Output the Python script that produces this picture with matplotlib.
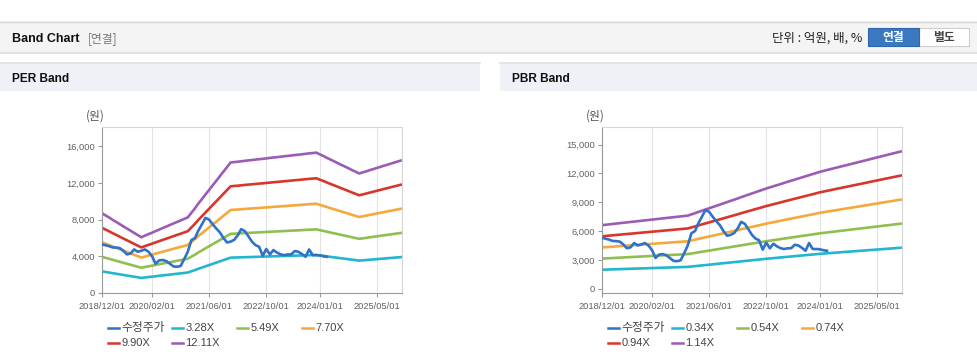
import matplotlib
matplotlib.use("Agg")
import matplotlib.pyplot as plt
from matplotlib.lines import Line2D
from matplotlib.patches import Rectangle
import pandas as pd

plt.rcParams['font.family'] = ['Liberation Sans', 'Noto Sans CJK KR', 'DejaVu Sans']

# ---------------- data ----------------
months = pd.date_range('2018-12-01', periods=85, freq='MS')

eps = [718, 698, 679, 659, 640, 620, 600, 581, 561, 541, 522, 502,
       516, 530, 543, 557, 571, 585, 598, 612, 626, 640, 653, 667, 681,
       722, 763, 805, 846, 887, 928, 969, 1010, 1052, 1093, 1134, 1175,
       1179, 1182, 1186, 1190, 1194, 1197, 1201, 1205, 1208, 1212, 1216,
       1220, 1223, 1227, 1231, 1234, 1238, 1242, 1245, 1249, 1253, 1257,
       1260, 1264, 1248, 1233, 1217, 1201, 1186, 1170, 1154, 1139, 1123,
       1107, 1092, 1076, 1086, 1096, 1106, 1116, 1126, 1136, 1146, 1156,
       1166, 1176, 1186, 1196]

bps = [5800, 5836, 5873, 5909, 5945, 5981, 6018, 6054, 6090, 6126, 6163,
       6199, 6235, 6271, 6308, 6344, 6380, 6416, 6453, 6489, 6525, 6561,
       6598, 6634, 6670, 6782, 6894, 7006, 7118, 7230, 7340, 7453, 7566,
       7679, 7792, 7905, 8018, 8131, 8244, 8357, 8470, 8583, 8696, 8809,
       8922, 9035, 9150, 9251, 9352, 9453, 9554, 9655, 9756, 9857, 9958,
       10059, 10160, 10261, 10362, 10463, 10564, 10670, 10752, 10834,
       10916, 10998, 11080, 11162, 11244, 11326, 11408, 11490, 11572,
       11654, 11736, 11818, 11900, 11982, 12064, 12146, 12228, 12310,
       12392, 12474, 12556]

price = [5300, 5200, 5100, 4970, 4950, 4900, 4600, 4210, 4300, 4750, 4500,
         4600, 4750, 4500, 4000, 3200, 3550, 3600, 3480, 3200, 2900, 2860,
         2950, 3700, 4500, 5770, 6000, 6800, 7500, 8190, 8000, 7500, 7030,
         6600, 6000, 5510, 5600, 5800, 6300, 6960, 6750, 6200, 5600, 5220,
         5040, 4060, 4800, 4200, 4680, 4400, 4210, 4130, 4200, 4210, 4570,
         4500, 4250, 3950, 4750, 4130, 4130, 4100, 4000, 3950]

per_multiples = [3.28, 5.49, 7.70, 9.90, 12.11]
pbr_multiples = [0.34, 0.54, 0.74, 0.94, 1.14]
per_labels = ['수정주가', '3.28X', '5.49X', '7.70X', '9.90X', '12.11X']
pbr_labels = ['수정주가', '0.34X', '0.54X', '0.74X', '0.94X', '1.14X']

per_yticks = [0, 4000, 8000, 12000, 16000]
pbr_yticks = [0, 3000, 6000, 9000, 12000, 15000]
xtick_labels = ['2018/12/01', '2020/02/01', '2021/06/01', '2022/10/01', '2024/01/01', '2025/05/01']

colors = ['#2f72c8', '#22b6cf', '#8fbf50', '#f4a93a', '#d8352c', '#9c5cb4']

# ---------------- figure ----------------
W, H = 978, 361
fig = plt.figure(figsize=(W / 100, H / 100), dpi=100)
fig.patch.set_facecolor('white')


def fx(px):
    return px / W


def fy(py):
    return 1 - py / H


def rect(x0, y0, x1, y1, fc, ec='none', lw=0, z=0):
    r = Rectangle((fx(x0), fy(y1)), fx(x1) - fx(x0), fy(y0) - fy(y1),
                  transform=fig.transFigure, facecolor=fc, edgecolor=ec,
                  linewidth=lw, zorder=z)
    fig.add_artist(r)


KR = ['Noto Sans CJK KR', 'Liberation Sans']

# header band
rect(0, 21, 978, 52, '#f4f4f4')
fig.add_artist(Line2D([0, 1], [fy(21.5), fy(21.5)], transform=fig.transFigure, color='#d9d9d9', lw=1))
fig.add_artist(Line2D([0, 1], [fy(52.5), fy(52.5)], transform=fig.transFigure, color='#e2e2e2', lw=1.5))
fig.text(fx(12), fy(38.5), 'Band Chart', fontsize=9, fontweight='bold', color='#111111',
         va='center', ha='left')
fig.text(fx(88), fy(38.5), '[연결]', fontsize=8.5, color='#777777', va='center', ha='left', family=KR)
fig.text(fx(862), fy(38), '단위 : 억원, 배, %', fontsize=9, color='#222222', va='center', ha='right', family=KR)
rect(919, 28, 969, 46, 'white', ec='#cfcfcf', lw=0.8, z=1)
rect(868, 28, 919, 46, '#3a79c1', ec='#2f68ab', lw=0.8, z=2)
fig.text(fx(893.5), fy(37), '연결', fontsize=8.5, color='white', fontweight='bold', va='center', ha='center',
         family=['Noto Sans CJK KR'], zorder=3)
fig.text(fx(944), fy(37), '별도', fontsize=8.5, color='#444444', fontweight='bold', va='center', ha='center',
         family=['Noto Sans CJK KR'], zorder=3)

# panel title bars
for x0, x1, title in [(0, 480, 'PER Band'), (500, 978, 'PBR Band')]:
    rect(x0, 62, x1, 91, '#eef1f6')
    fig.add_artist(Line2D([fx(x0), fx(x1)], [fy(62.5), fy(62.5)], transform=fig.transFigure,
                          color='#dfe2e7', lw=1.2))
    fig.text(fx(x0 + 12), fy(78.5), title, fontsize=8.6, fontweight='bold', color='#111111',
             va='center', ha='left')


def draw_panel(left_px, bands_base, multiples, labels, yticks, ylim):
    ax = fig.add_axes([fx(left_px), fy(293), fx(300), fy(127) - fy(293)])
    ax.set_facecolor('white')
    for i, m in enumerate(multiples):
        vals = [b * m for b in bands_base]
        ax.plot(months, vals, color=colors[i + 1], lw=1.9, solid_capstyle='butt', zorder=2)
    ax.plot(months[:len(price)], price, color=colors[0], lw=1.9, zorder=3)
    ax.set_xlim(months[0], months[-1])
    ax.set_ylim(*ylim)
    ticks = [pd.Timestamp(t.replace('/', '-')) for t in xtick_labels]
    ax.set_xticks(ticks)
    ax.set_xticklabels(xtick_labels)
    ax.set_yticks(yticks)
    ax.set_yticklabels([f'{v:,}' for v in yticks])
    ax.grid(axis='x', color='#e3e3e3', lw=0.8)
    ax.grid(axis='y', visible=False)
    ax.set_axisbelow(True)
    for s in ['top', 'right']:
        ax.spines[s].set_color('#d6d6d6')
        ax.spines[s].set_linewidth(0.8)
    for s in ['left', 'bottom']:
        ax.spines[s].set_color('#9a9a9a')
        ax.spines[s].set_linewidth(0.8)
    ax.tick_params(axis='both', labelsize=6.7, colors='#9a9a9a', labelcolor='#606060',
                   length=3, width=0.8)
    ax.tick_params(axis='x', pad=3.5)
    ax.tick_params(axis='y', pad=2)
    fig.text(fx(left_px - 16), fy(116), '(원)', fontsize=8.5, color='#555555', ha='left', va='center',
             family=['Noto Sans CJK KR'])
    # legend
    col_x = [108, 172, 237, 302]
    row_y = [328, 343]
    for i, lab in enumerate(labels):
        r, c = divmod(i, 4)
        x0 = left_px - 102 + col_x[c]
        y0 = row_y[r]
        fig.add_artist(Line2D([fx(x0), fx(x0 + 11)], [fy(y0), fy(y0)], transform=fig.transFigure,
                              color=colors[i], lw=1.8))
        fig.text(fx(x0 + 13.5), fy(y0), lab, fontsize=8.5 if i == 0 else 8, color='#444444',
                 va='center', ha='left', family=KR if i == 0 else ['Liberation Sans'])
    return ax


draw_panel(102, eps, per_multiples, per_labels, per_yticks, (0, 18100))
draw_panel(602, bps, pbr_multiples, pbr_labels, pbr_yticks, (-450, 16830))

fig.savefig('out.png', dpi=100, facecolor='white')
